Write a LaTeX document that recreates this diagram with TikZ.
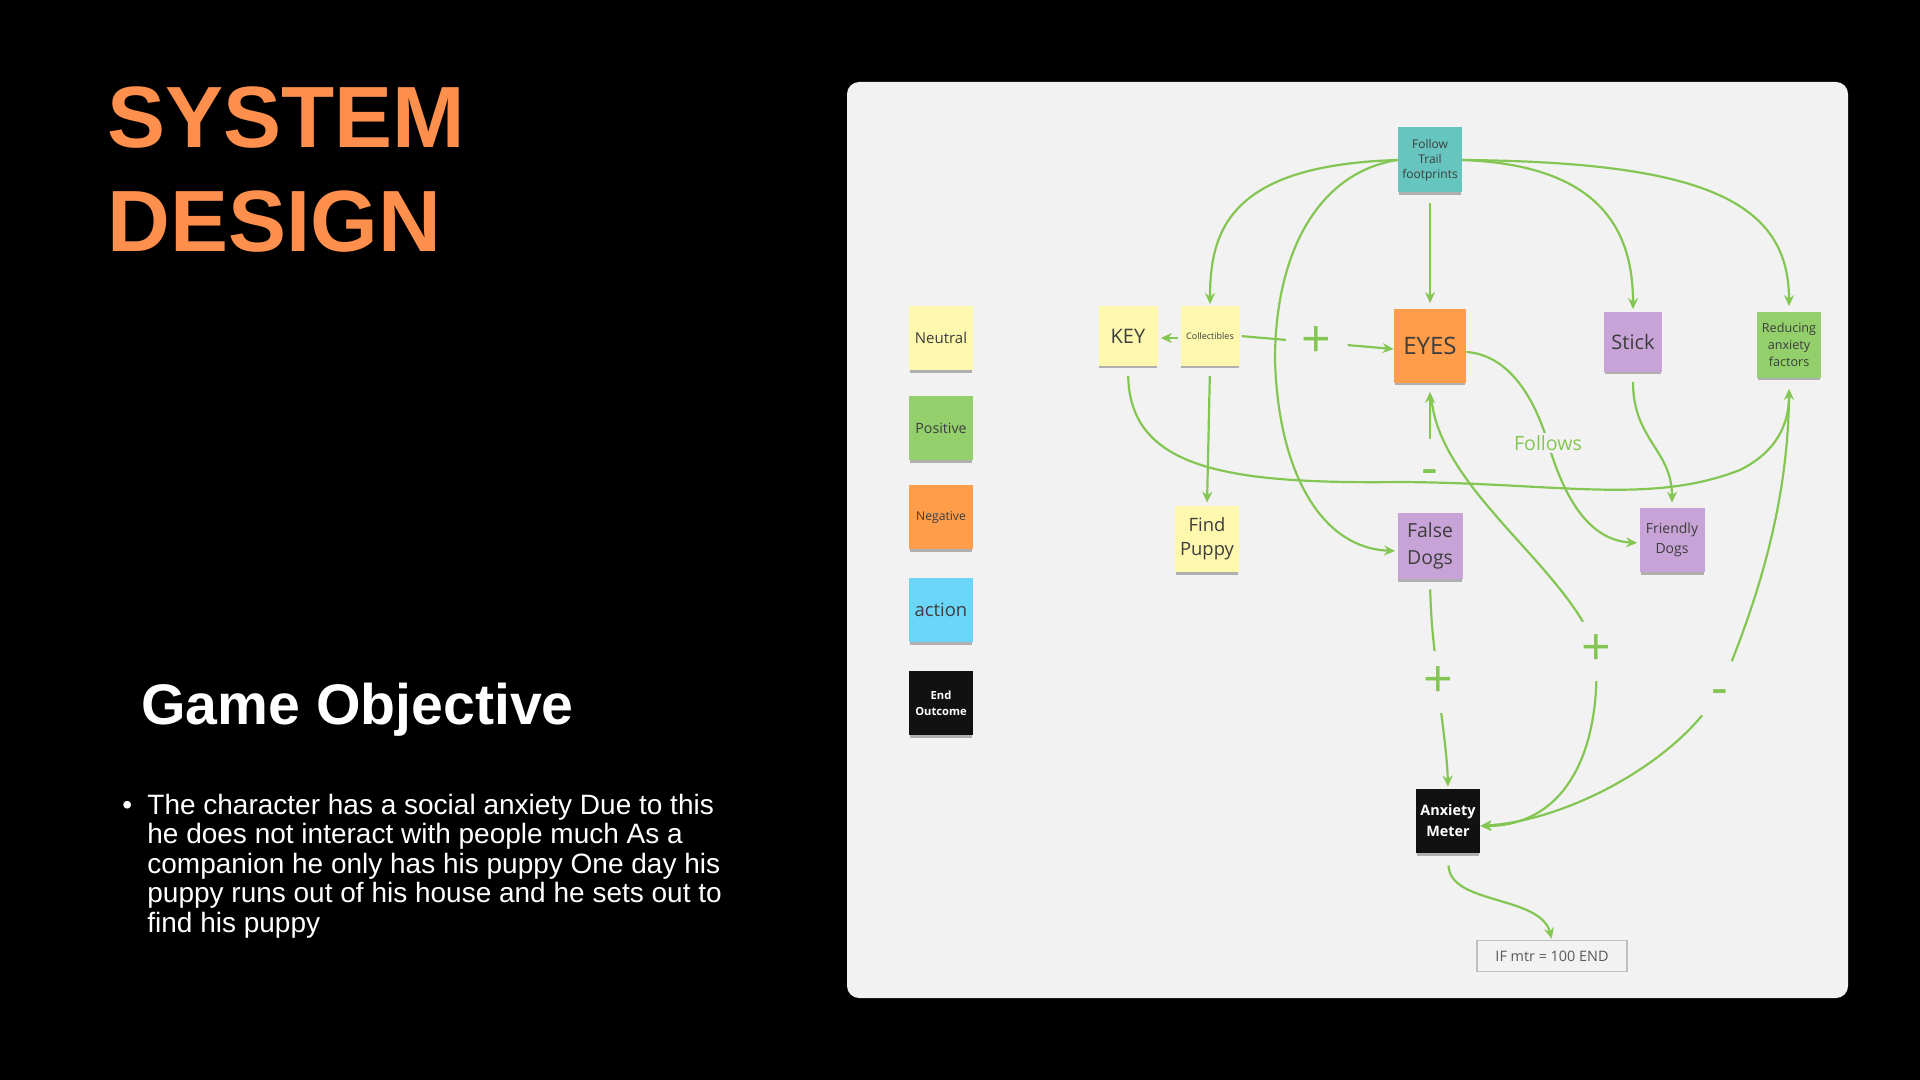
\documentclass[tikz,border=0pt]{standalone}
\usepackage{fontspec}
\setmainfont{Open Sans}
\newfontfamily\helv{Liberation Sans}
\usetikzlibrary{arrows.meta,shadows}
\definecolor{panel}{HTML}{F2F2F2}
\definecolor{lnk}{HTML}{84C653}
\definecolor{cneutral}{HTML}{FEF8AF}
\definecolor{cpositive}{HTML}{93CF6B}
\definecolor{cnegative}{HTML}{FF9D4A}
\definecolor{caction}{HTML}{6CD6F9}
\definecolor{cteal}{HTML}{66C5BE}
\definecolor{cpurple}{HTML}{C8A3D7}
\definecolor{ctitle}{HTML}{FF8F4C}
\definecolor{notetext}{HTML}{3D3D3D}
\definecolor{cblack}{HTML}{111111}
\newcommand\myfs[2]{\fontsize{#1pt}{#2pt}\selectfont}
\begin{document}
\begin{tikzpicture}[x=0.5pt,y=-0.5pt,
  note/.style={rectangle, inner sep=0pt, align=center, text=notetext,
    drop shadow={opacity=0.4, shadow xshift=0pt, shadow yshift=-1.8pt, shadow scale=0.97, fill=black!70}},
  sz/.style 2 args={minimum width=#1pt, minimum height=#2pt},
  conn/.style={draw=lnk, line width=1.1pt, -{Stealth[length=5.5pt,width=5pt]}},
  sign/.style={circle, fill=panel, inner sep=0pt, minimum size=31pt, text=lnk, font=\myfs{26}{26}},
  lbl/.style={rectangle, fill=panel, inner sep=1pt, text=lnk, font=\myfs{9.8}{11}},
  leftbody/.style={anchor=base west, inner sep=0pt, text=white, font=\helv\myfs{14}{14.75}}]

\useasboundingbox (0,0) rectangle (1920,1080);
\fill[black] (0,0) rectangle (1920,1080);

% ---- left side text
\node[anchor=base west, inner sep=0pt, text=ctitle, font=\helv\bfseries\myfs{43.5}{43.5}] (t1) at (107,148) {SYSTEM};
\node[anchor=base west, inner sep=0pt, text=ctitle, font=\helv\bfseries\myfs{43.5}{43.5}] (t2) at (107,252) {DESIGN};
\node[anchor=base west, inner sep=0pt, text=white, font=\helv\bfseries\myfs{28.6}{28.6}] (gobj) at (141,724) {Game Objective};
\node[leftbody] (bul) at (122,814) {•};
\node[leftbody] (b1) at (147,814) {The character has a social anxiety Due to this};
\node[leftbody] (b2) at (147,843.5) {he does not interact with people much As a};
\node[leftbody] (b3) at (147,873) {companion he only has his puppy One day his};
\node[leftbody] (b4) at (147,902.5) {puppy runs out of his house and he sets out to};
\node[leftbody] (b5) at (147,932) {find his puppy};

% ---- panel
\fill[panel, rounded corners=6pt] (847,82) rectangle (1848,998);

% ---- legend
\node[note, sz={32}{32}, fill=cneutral, font=\myfs{7.5}{9}] (lg1) at (941,338) {Neutral};
\node[note, sz={32}{32}, fill=cpositive, font=\myfs{7.1}{9}] (lg2) at (941,428) {Positive};
\node[note, sz={32}{32}, fill=cnegative, font=\myfs{6.1}{8}] (lg3) at (941,517) {Negative};
\node[note, sz={32}{32}, fill=caction, font=\myfs{9.2}{11}] (lg4) at (941,610) {action};
\node[note, sz={32}{32}, fill=cblack, text=white, font=\bfseries\myfs{5.6}{8}] (lg5) at (941,703) {End\\Outcome};

% ---- diagram notes
\node[note, sz={32}{32.5}, fill=cteal, font=\myfs{6}{7.5}] (follow) at (1430,160) {Follow\\Trail\\footprints};
\node[note, sz={29.5}{29.5}, fill=cneutral, font=\myfs{10}{12}] (key) at (1128,336) {KEY};
\node[note, sz={29.5}{29.5}, fill=cneutral, font=\myfs{4.5}{6}] (coll) at (1210,336) {Collectibles};
\node[note, sz={36}{36.5}, fill=cnegative, font=\myfs{12}{14}] (eyes) at (1430,346) {EYES};
\node[note, sz={29}{29.5}, fill=cpurple, font=\myfs{10}{12}] (stick) at (1633,342) {Stick};
\node[note, sz={32}{32.5}, fill=cpositive, font=\myfs{6.3}{8.5}] (reduce) at (1789,345) {Reducing\\anxiety\\factors};
\node[note, sz={32}{33}, fill=cneutral, font=\myfs{9.2}{12}] (find) at (1207,539) {Find\\Puppy};
\node[note, sz={32.5}{33}, fill=cpurple, font=\myfs{9.7}{13.5}] (false) at (1430,546) {False\\Dogs};
\node[note, sz={32.5}{32}, fill=cpurple, font=\myfs{7}{9.8}] (friendly) at (1672,540) {Friendly\\Dogs};
\node[note, sz={32}{32}, fill=cblack, text=white, font=\bfseries\myfs{7.2}{10.5}] (anx) at (1448,821) {Anxiety\\Meter};
\node[rectangle, draw=black!25, line width=0.8pt, fill=panel, sz={75}{15.5}, text=black!65, font=\myfs{7.2}{8}] (ifbox) at (1552,956) {IF mtr = 100 END};

% ---- labelled connectors (drawn first)
\draw[conn, shorten <=1pt] (coll.east) -- node[sign, pos=0.5] {+} ([yshift=-1.5pt]eyes.west);
\draw[conn, shorten <=8pt, shorten >=4.5pt] (false.north) -- node[sign, pos=0.33] {\vphantom{+}-} (eyes.south);
\draw[conn, shorten >=1pt] ([yshift=-3pt]eyes.east) .. controls (1510,355) and (1535,400) .. (1548,443)
   node[lbl] {Follows} .. controls (1562,490) and (1585,540) .. ([yshift=-1.5pt]friendly.west);
\draw[conn, shorten <=8pt] (eyes.south) .. controls (1440,490) and (1570,570) .. (1596,650)
   node[sign] {+} .. controls (1602,760) and (1560,826) .. ([yshift=-2.5pt]anx.east);
\draw[conn, shorten <=7pt] (reduce.south) .. controls (1789,520) and (1745,630) .. (1720,690)
   node[sign] {\vphantom{+}-} .. controls (1680,760) and (1570,820) .. ([yshift=-2.5pt]anx.east);
\draw[conn, shorten <=5pt, shorten >=1pt] (false.south) .. controls (1431,630) and (1436,660) .. (1438,682)
   node[sign] {+} .. controls (1440,710) and (1447,750) .. (anx.north);

% ---- other connectors
\draw[conn, shorten >=1pt] (follow.west) .. controls (1230,165) and (1210,230) .. (coll.north);
\draw[conn, shorten >=1pt] (follow.west) .. controls (1320,172) and (1275,250) .. (1275,360)
   .. controls (1278,470) and (1320,548) .. ([yshift=-2.5pt]false.west);
\draw[conn, shorten <=5pt, shorten >=3pt] (follow.south) -- (eyes.north);
\draw[conn, shorten >=1.5pt] (follow.east) .. controls (1600,165) and (1633,230) .. (stick.north);
\draw[conn, shorten >=3pt] (follow.east) .. controls (1700,162) and (1789,200) .. (reduce.north);
\draw[conn, shorten <=1pt, shorten >=1.5pt] ([yshift=-1pt]coll.west) -- ([yshift=-1pt]key.east);
\draw[conn, shorten <=5pt, shorten >=1.5pt] (coll.south) -- (find.north);
\draw[conn, shorten <=5pt, shorten >=5.5pt] (key.south) .. controls (1130,470) and (1230,484) .. (1400,482)
   .. controls (1560,483) and (1650,505) .. (1740,470) .. controls (1780,450) and (1789,420) .. (reduce.south);
\draw[conn, shorten <=5pt, shorten >=2.5pt] (stick.south) .. controls (1633,440) and (1672,450) .. (friendly.north);
\draw[conn, shorten <=6pt, shorten >=0.5pt] (anx.south) .. controls (1450,905) and (1540,895) .. (ifbox.north);

\end{tikzpicture}
\end{document}
